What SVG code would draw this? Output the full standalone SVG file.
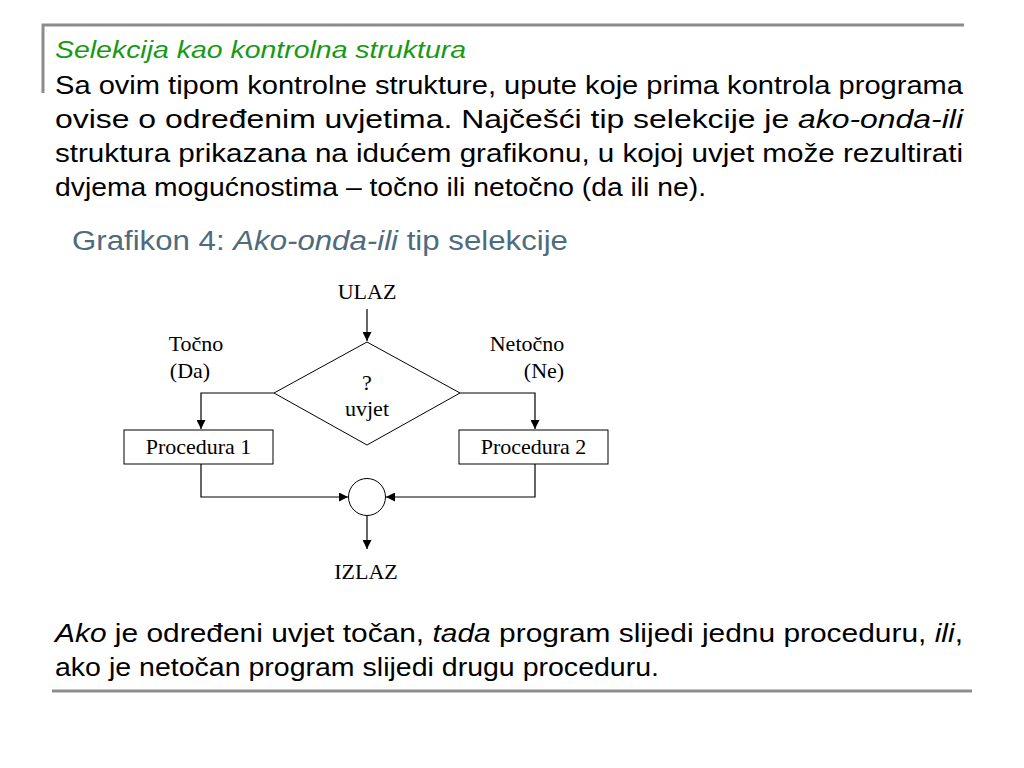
<svg xmlns="http://www.w3.org/2000/svg" width="1024" height="768" viewBox="0 0 1024 768">
<defs>
<marker id="ah" viewBox="0 0 10 10" refX="10" refY="5" markerWidth="10" markerHeight="9" markerUnits="userSpaceOnUse" orient="auto">
<path d="M0,0 L10,5 L0,10 z" fill="#000"/>
</marker>
<style>
.rule{stroke:#8c8c8c;stroke-width:3;fill:none}
.body{font-family:"Liberation Sans",Arial,sans-serif;font-size:26px;fill:#000}
.title{font-family:"Liberation Sans",Arial,sans-serif;font-size:23px;font-style:italic;fill:#169a16}
.cap{font-family:"Liberation Sans",Arial,sans-serif;font-size:27px;fill:#4f6b7e}
.it{font-style:italic}
.lbl{font-family:"Liberation Serif","Times New Roman",serif;font-size:22px;fill:#000;text-anchor:middle}
.shape{fill:#fff;stroke:#000;stroke-width:1}
.conn{fill:none;stroke:#000;stroke-width:1.2}
</style>
</defs>
<rect width="1024" height="768" fill="#fff"/>
<path class="rule" d="M43,93 V25 H964"/>
<line class="rule" x1="52" y1="691" x2="972" y2="691"/>
<text class="title" x="55" y="58" textLength="411" lengthAdjust="spacingAndGlyphs">Selekcija kao kontrolna struktura</text>
<text class="body" x="55" y="94" textLength="908" lengthAdjust="spacingAndGlyphs">Sa ovim tipom kontrolne strukture, upute koje prima kontrola programa</text>
<text class="body" x="55" y="128" textLength="908" lengthAdjust="spacingAndGlyphs">ovise o određenim uvjetima. Najčešći tip selekcije je <tspan class="it">ako-onda-ili</tspan></text>
<text class="body" x="55" y="162" textLength="908" lengthAdjust="spacingAndGlyphs">struktura prikazana na idućem grafikonu, u kojoj uvjet može rezultirati</text>
<text class="body" x="55" y="196" textLength="651" lengthAdjust="spacingAndGlyphs">dvjema mogućnostima – točno ili netočno (da ili ne).</text>
<text class="cap" x="72" y="250" textLength="496" lengthAdjust="spacingAndGlyphs">Grafikon 4: <tspan class="it">Ako-onda-ili</tspan> tip selekcije</text>
<g id="connectors">
<line class="conn" x1="367" y1="309" x2="367" y2="341" marker-end="url(#ah)"/>
<polyline class="conn" points="274,393 201,393 201,429" marker-end="url(#ah)"/>
<polyline class="conn" points="460,393 535,393 535,429" marker-end="url(#ah)"/>
<polyline class="conn" points="201,464 201,497 348,497" marker-end="url(#ah)"/>
<polyline class="conn" points="535,464 535,497 386,497" marker-end="url(#ah)"/>
<line class="conn" x1="367" y1="516" x2="367" y2="549" marker-end="url(#ah)"/>
</g>
<g id="ulaz"><text class="lbl" x="367" y="299">ULAZ</text></g>
<g id="uvjet">
<polygon class="shape" points="367,342 460,393 367,445 274,393"/>
<text class="lbl" x="367" y="390">?</text>
<text class="lbl" x="367" y="416">uvjet</text>
</g>
<g id="tocno"><text class="lbl" x="196" y="351">Točno</text><text class="lbl" x="190" y="378">(Da)</text></g>
<g id="netocno"><text class="lbl" x="527" y="351">Netočno</text><text class="lbl" x="544" y="378">(Ne)</text></g>
<g id="proc1"><rect class="shape" x="124" y="430" width="149" height="34"/><text class="lbl" x="198.5" y="454">Procedura 1</text></g>
<g id="proc2"><rect class="shape" x="459" y="430" width="149" height="34"/><text class="lbl" x="533.5" y="454">Procedura 2</text></g>
<g id="spoj"><circle class="shape" cx="367" cy="497" r="18.5"/></g>
<g id="izlaz"><text class="lbl" x="366" y="579">IZLAZ</text></g>
<text class="body" x="55" y="642" textLength="908" lengthAdjust="spacingAndGlyphs"><tspan class="it">Ako</tspan> je određeni uvjet točan, <tspan class="it">tada</tspan> program slijedi jednu proceduru, <tspan class="it">ili</tspan>,</text>
<text class="body" x="55" y="676" textLength="604" lengthAdjust="spacingAndGlyphs">ako je netočan program slijedi drugu proceduru.</text>
</svg>
